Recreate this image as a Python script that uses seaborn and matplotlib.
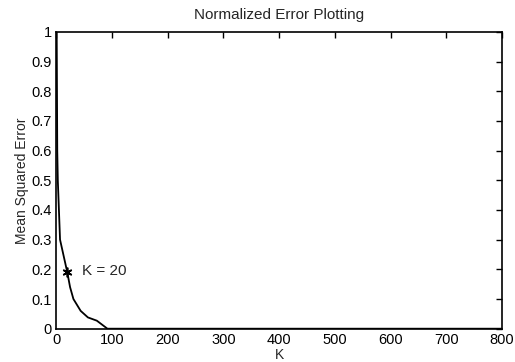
import matplotlib
matplotlib.use("Agg")
import matplotlib.pyplot as plt
import seaborn as sns
import pandas as pd

k_values = [1, 1.5, 2, 3, 5, 7, 20, 25, 31, 44, 57, 73, 92, 100, 200, 400, 600, 800]
mse_values = [1.0, 0.8, 0.6, 0.5, 0.4, 0.3, 0.19, 0.14, 0.1, 0.06, 0.038, 0.027, 0.0, 0.0, 0.0, 0.0, 0.0, 0.0]
marker_k = [20]
marker_mse = [0.19]
x_ticks = [0, 100, 200, 300, 400, 500, 600, 700, 800]
y_ticks = [0, 0.1, 0.2, 0.3, 0.4, 0.5, 0.6, 0.7, 0.8, 0.9, 1]
y_tick_labels = ["0", "0.1", "0.2", "0.3", "0.4", "0.5", "0.6", "0.7", "0.8", "0.9", "1"]

sns.set_style("white")
plt.rcParams["font.family"] = ["Liberation Sans", "DejaVu Sans"]

df = pd.DataFrame({"K": k_values, "MSE": mse_values})

fig = plt.figure(figsize=(5.15, 3.62), dpi=100)
ax = fig.add_axes([0.109, 0.092, 0.866, 0.820])
sns.lineplot(data=df, x="K", y="MSE", color="black", linewidth=1.3, ax=ax, sort=False)
ax.plot(marker_k, marker_mse, marker=(6, 2, 0), color="black", markersize=7, linestyle="none", markeredgewidth=1.2)
ax.text(marker_k[0] + 27, marker_mse[0] + 0.005, "K = 20", fontsize=11, va="center", ha="left")

ax.set_xlim(0, 800)
ax.set_ylim(0, 1)
ax.set_xticks(x_ticks)
ax.set_yticks(y_ticks)
ax.set_yticklabels(y_tick_labels)
ax.tick_params(direction="in", top=True, right=True, length=4, width=1, labelsize=10.5, pad=3, colors="black")
for s in ax.spines.values():
    s.set_color("black")
    s.set_linewidth(1.2)
ax.set_xlabel("K", fontsize=10, labelpad=1)
ax.set_ylabel("Mean Squared Error", fontsize=10, labelpad=2)
ax.set_title("Normalized Error Plotting", fontsize=11, pad=9)
fig.savefig("out.png", dpi=100)
